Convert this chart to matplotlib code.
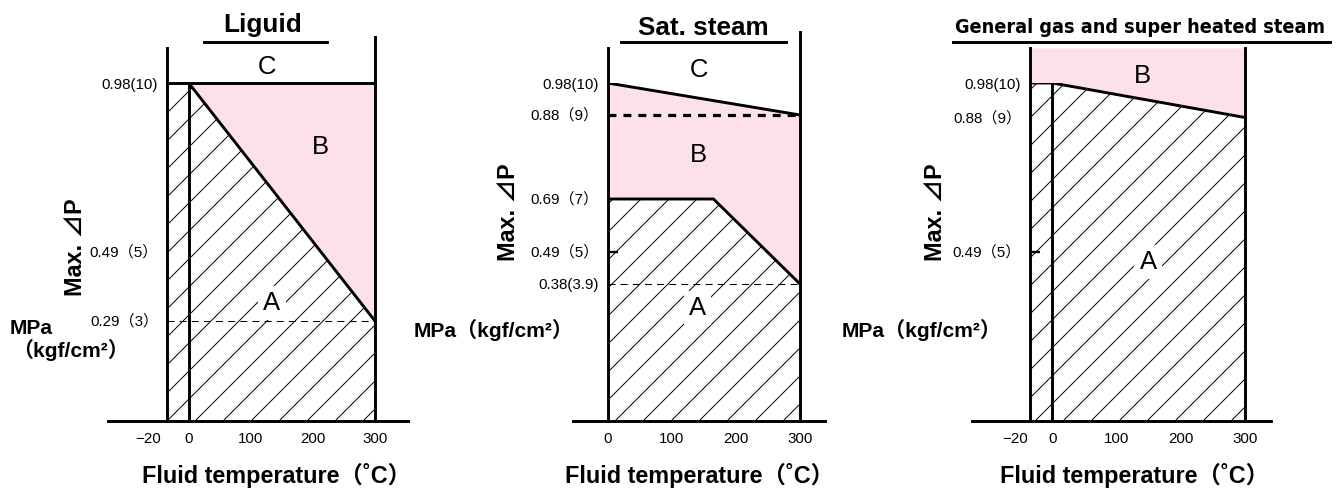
import numpy as np
import matplotlib
matplotlib.use("Agg")
import matplotlib.pyplot as plt
from matplotlib.lines import Line2D
from matplotlib import font_manager as fm

# ---------------- data ----------------
x_tick_values = [0, 100, 200, 300]
x_tick_labels = ["0", "100", "200", "300"]
t_low_label = "−20"

# Liquid
liq_T_min = -20
liq_T_max = 300
liq_P_max = 0.98
liq_boundary_T = [0, 300]
liq_boundary_P = [0.98, 0.29]
liq_dash_P = 0.29
liq_yticks = [0.98, 0.49, 0.29]
liq_ylabels = ["0.98(10)", "0.49（5）", "0.29（3）"]

# Saturated steam
sat_T_min = 0
sat_T_max = 300
sat_upper_T = [0, 300]
sat_upper_P = [0.98, 0.88]
sat_lower_T = [0, 165, 300]
sat_lower_P = [0.69, 0.69, 0.38]
sat_dash_thick_P = 0.88
sat_dash_thin_P = 0.38
sat_yticks = [0.98, 0.88, 0.69, 0.49, 0.38]
sat_ylabels = ["0.98(10)", "0.88（9）", "0.69（7）", "0.49（5）", "0.38(3.9)"]

# General gas & superheated steam
gas_T_min = -20
gas_T_max = 300
gas_boundary_T = [-20, 0, 300]
gas_boundary_P = [0.98, 0.98, 0.88]
gas_top_P = 1.08
gas_yticks = [0.98, 0.88, 0.49]
gas_ylabels = ["0.98(10)", "0.88（9）", "0.49（5）"]

titles = ["Liguid", "Sat. steam", "General gas and super heated steam"]
xlabel_text = "Fluid temperature（˚C）"
ylabel_text = "Max. ⊿P"

# ---------------- style ----------------
W, H, DPI = 1340, 488, 168
PINK = "#FCE1E8"
LW = 1.25
plt.rcParams["hatch.linewidth"] = 0.42
plt.rcParams["lines.scale_dashes"] = False
BOLD = ["Liberation Sans", "Noto Sans CJK JP", "DejaVu Sans"]
TICKF = ["Liberation Sans", "Noto Sans CJK JP", "DejaVu Sans"]
REG = ["Liberation Sans", "DejaVu Sans"]
NARROWISH = ["Roboto", "Liberation Sans", "DejaVu Sans"]
TICK_FS = 6.5


def _w(f):
    w = f.weight
    if isinstance(w, str):
        return {"bold": 700, "heavy": 800, "black": 900, "semibold": 600,
                "demibold": 600, "extra bold": 800}.get(w.lower(), 400)
    return int(w)


def find_condensed():
    cands = []
    for f in fm.fontManager.ttflist:
        n = (f.name + " " + f.fname).lower()
        st = str(f.stretch).lower()
        if ("narrow" in n or "condensed" in n or "condensed" in st
                or (isinstance(f.stretch, (int, float)) and f.stretch < 500)):
            cands.append((abs(_w(f) - 700), f.fname))
    cands.sort()
    return cands[0][1] if cands else None


cond_path = find_condensed()

fig = plt.figure(figsize=(W / DPI, H / DPI), dpi=DPI)


def fx(px):
    return px / W


def fy(py):
    return 1 - py / H


def piecewise(xk, yk):
    xk = np.asarray(xk, float)
    yk = np.asarray(yk, float)

    def make(a, b):
        s0 = (b[1] - b[0]) / (a[1] - a[0])
        s1 = (b[-1] - b[-2]) / (a[-1] - a[-2])

        def f(v):
            v = np.asarray(v, float)
            out = np.interp(v, a, b)
            out = np.where(v < a[0], b[0] + (v - a[0]) * s0, out)
            out = np.where(v > a[-1], b[-1] + (v - a[-1]) * s1, out)
            return out
        return f
    return make(xk, yk), make(yk, xk)


def make_axes(left_px, right_px, xk, xkv, yk, ykv, xmin):
    ax = fig.add_axes([fx(left_px), fy(421), (right_px - left_px) / W, 338 / H])
    ax.set_xscale("function", functions=piecewise(xk, xkv))
    ax.set_yscale("function", functions=piecewise(yk, ykv))
    ax.set_xlim(xmin, 300)
    ax.set_ylim(0, 0.98)
    for s in ax.spines.values():
        s.set_visible(False)
    ax.patch.set_alpha(0)
    return ax


def common(ax, yticks, ylabels, low_label_offset, tick049, base_ext):
    ax.set_yticks(yticks)
    ax.set_yticklabels(ylabels, fontfamily=TICKF, fontsize=TICK_FS)
    ax.tick_params(axis="y", which="major", length=0, pad=3.8)
    ax.set_xticks(x_tick_values)
    ax.set_xticklabels(x_tick_labels, fontfamily=TICKF, fontsize=TICK_FS)
    ax.tick_params(axis="x", length=0, pad=4.6)
    if tick049:
        ax.yaxis.remove_overlapping_locs = False
        ax.set_yticks([0.49], minor=True)
        ax.tick_params(axis="y", which="minor", direction="in", length=4.2,
                       width=LW * 0.8, color="black")
    if low_label_offset is not None:
        ax.annotate(t_low_label, xy=(-20, 0), xycoords="data",
                    xytext=(low_label_offset, -4.6), textcoords="offset points",
                    ha="right", va="top", fontfamily=TICKF, fontsize=TICK_FS,
                    annotation_clip=False)
    ax.axhline(0, xmin=base_ext[0], xmax=base_ext[1], color="black", lw=LW,
               clip_on=False)


def hatched(ax, T, P):
    ax.fill_between(T, 0, P, facecolor="white", edgecolor="black", hatch="//",
                    linewidth=0, zorder=1)


def region_label(ax, s, x, y, box=False):
    kw = {}
    if box:
        kw["bbox"] = dict(boxstyle="square,pad=0.2", fc="white", ec="none")
    ax.text(x, y, s, fontfamily=REG, fontsize=11, ha="center", va="center",
            zorder=4, clip_on=False, **kw)


# ---------- Panel 1: Liquid ----------
ax1 = make_axes(167, 375, [-20, 0, 300], [-35, 0, 300], [0, 0.98], [0, 0.98], liq_T_min)
hatched(ax1, [liq_T_min] + liq_boundary_T, [liq_P_max] + liq_boundary_P)
ax1.fill_between(liq_boundary_T, liq_boundary_P, liq_P_max, facecolor=PINK,
                 linewidth=0, zorder=1)
ax1.plot([liq_T_min, liq_T_max], [liq_dash_P, liq_dash_P], color="black", lw=0.45,
         ls=(0, (3.0, 2.2)), zorder=2, clip_on=False)
ax1.plot([liq_T_min, liq_T_max], [liq_P_max, liq_P_max], color="black", lw=LW,
         zorder=3, clip_on=False)
ax1.plot(liq_boundary_T, liq_boundary_P, color="black", lw=LW, zorder=3)
ax1.plot([0, 0], [0, liq_P_max], color="black", lw=LW, zorder=3)
ax1.axvline(liq_T_min, ymin=0, ymax=1.104, color="black", lw=LW, clip_on=False, zorder=3)
ax1.axvline(liq_T_max, ymin=0, ymax=1.136, color="black", lw=LW, clip_on=False, zorder=3)
common(ax1, liq_yticks, liq_ylabels, -2.6, False, (-0.284, 1.159))
region_label(ax1, "C", 126, 1.026)
region_label(ax1, "B", 212, 0.794)
region_label(ax1, "A", 134, 0.342, box=True)

# ---------- Panel 2: Saturated steam ----------
ax2 = make_axes(607.7, 800, [0, 300], [0, 300],
                [0, 0.38, 0.49, 0.69, 0.88, 0.98], [0, 137, 169, 222, 306, 338], sat_T_min)
hatched(ax2, sat_lower_T, sat_lower_P)
ax2.fill_between(sat_lower_T, sat_lower_P, np.interp(sat_lower_T, sat_upper_T, sat_upper_P),
                 facecolor=PINK, linewidth=0, zorder=1)
ax2.plot([sat_T_min, sat_T_max], [sat_dash_thin_P] * 2, color="black", lw=0.45,
         ls=(0, (3.0, 2.2)), zorder=2)
ax2.plot([sat_T_min, sat_T_max], [sat_dash_thick_P] * 2, color="black", lw=LW * 1.1,
         ls=(0, (3.4, 3.0)), zorder=2)
ax2.plot(sat_upper_T, sat_upper_P, color="black", lw=LW, zorder=3)
ax2.plot(sat_lower_T, sat_lower_P, color="black", lw=LW, zorder=3)
ax2.axvline(sat_T_min, ymin=0, ymax=1.104, color="black", lw=LW, clip_on=False, zorder=3)
ax2.axvline(sat_T_max, ymin=0, ymax=1.151, color="black", lw=LW, clip_on=False, zorder=3)
common(ax2, sat_yticks, sat_ylabels, None, True, (-0.18, 1.13))
region_label(ax2, "C", 143, 1.02)
region_label(ax2, "B", 141, 0.79)
region_label(ax2, "A", 140, 0.313, box=True)

# ---------- Panel 3: General gas ----------
ax3 = make_axes(1030, 1245, [-20, 0, 300], [-35, 0, 300], [0, 0.98], [0, 0.98], gas_T_min)
hatched(ax3, gas_boundary_T, gas_boundary_P)
ax3.fill_between(gas_boundary_T, gas_boundary_P, gas_top_P, facecolor=PINK,
                 linewidth=0, zorder=1, clip_on=False)
ax3.plot(gas_boundary_T, gas_boundary_P, color="black", lw=LW, zorder=3)
ax3.plot([0, 0], [0, gas_boundary_P[1]], color="black", lw=LW, zorder=3)
ax3.axvline(gas_T_min, ymin=0, ymax=1.104, color="black", lw=LW, clip_on=False, zorder=3)
ax3.axvline(gas_T_max, ymin=0, ymax=1.104, color="black", lw=LW, clip_on=False, zorder=3)
common(ax3, gas_yticks, gas_ylabels, -0.9, True, (-0.27, 1.12))
region_label(ax3, "B", 139.5, 1.0)
region_label(ax3, "A", 149, 0.461, box=True)

# ---------- titles & labels ----------
title_specs = [(263, 32, 11.2, (204, 327), None),
               (703, 35, 11.2, (621, 786), None),
               (1140, 33, 11.5, (953, 1330), 369)]
for t, (cx, by, fs, (u0, u1), target_w) in zip(titles, title_specs):
    if target_w is not None and cond_path is not None:
        fp = fm.FontProperties(fname=cond_path, size=fs)
        txt = fig.text(fx(cx), fy(by), t, ha="center", va="baseline", fontproperties=fp)
    elif target_w is not None:
        txt = fig.text(fx(cx), fy(by), t, ha="center", va="baseline", fontfamily=NARROWISH,
                       fontsize=fs, fontweight="bold")
    else:
        txt = fig.text(fx(cx), fy(by), t, ha="center", va="baseline", fontfamily=BOLD,
                       fontsize=fs, fontweight="bold")
    if target_w is not None:
        fig.canvas.draw()
        w = txt.get_window_extent().width
        txt.set_fontsize(fs * target_w / w)
    fig.add_artist(Line2D([fx(u0), fx(u1)], [fy(42), fy(42)], color="black", lw=LW))

for cx in (276, 700, 1135):
    fig.text(fx(cx), fy(483), xlabel_text, ha="center", va="baseline",
             fontfamily=BOLD, fontsize=10, fontweight="bold")

for cx, cy in ((75, 247), (508, 212), (935, 212)):
    fig.text(fx(cx), fy(cy), ylabel_text, ha="center", va="center", rotation=90,
             fontfamily=BOLD, fontsize=10, fontweight="bold")

fig.text(fx(31), fy(328), "MPa", ha="center", va="center", fontfamily=BOLD,
         fontsize=9, fontweight="bold")
fig.text(fx(70), fy(350), "（kgf/cm²）", ha="center", va="center", fontfamily=BOLD,
         fontsize=9, fontweight="bold")
fig.text(fx(494), fy(330), "MPa（kgf/cm²）", ha="center", va="center", fontfamily=BOLD,
         fontsize=9, fontweight="bold")
fig.text(fx(922), fy(330), "MPa（kgf/cm²）", ha="center", va="center", fontfamily=BOLD,
         fontsize=9, fontweight="bold")

fig.savefig("out.png", dpi=DPI, facecolor="white")
